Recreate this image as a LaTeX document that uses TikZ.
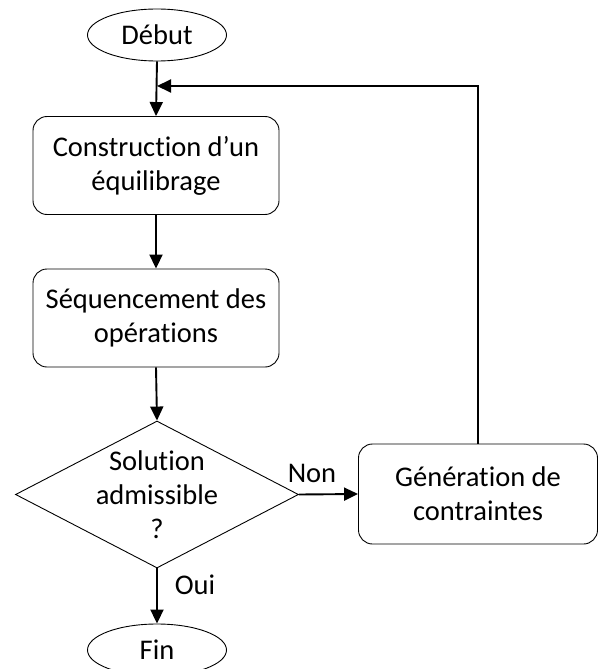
\documentclass[tikz,border=0pt]{standalone}
\usepackage{fontspec}
\setmainfont[RawFeature={-liga;-clig;-dlig}]{Carlito}
\usetikzlibrary{shapes.geometric,arrows.meta}
\begin{document}
\begin{tikzpicture}[x=1pt,y=-1pt,
  every node/.style={font=\fontsize{28.5}{34}\selectfont, align=center},
  term/.style={draw, ellipse, line width=0.9pt, minimum width=139pt, minimum height=52pt, inner sep=0pt},
  proc/.style={draw, rectangle, rounded corners=14pt, line width=0.9pt, minimum width=246pt, minimum height=98pt, inner sep=0pt},
  decision/.style={draw, diamond, line width=0.9pt, minimum width=283pt, minimum height=147pt, inner sep=0pt},
  conn/.style={line width=1.9pt, -{Triangle[length=14pt,width=13pt]}},
  lbl/.style={inner sep=0pt}
]
\useasboundingbox (0,0) rectangle (598,669);
\node[term] (debut) at (157,35) {Début};
\node[proc] (b1) at (156,165.5) {Construction d’un\\équilibrage};
\node[proc] (b2) at (156,318) {Séquencement des\\opérations};
\node[decision] (dia) at (157,494.5) {};
\node[lbl] (diatext) at (157,495) {Solution\\admissible\\?};
\node[proc, minimum width=239pt, minimum height=100pt] (gen) at (478,494) {Génération de\\contraintes};
\node[term] (fin) at (157,650) {Fin};
\coordinate (j) at (157,86);

\draw[conn] (debut.south) -- (b1.north);
\draw[conn] (gen.north) |- (j);
\draw[conn] (b1.south) -- (b2.north);
\draw[conn] (b2.south) -- (dia.north);
\draw[conn] (dia.east) -- (gen.west);
\draw[conn] (dia.south) -- (fin.north);
\node[lbl] (non) at (312,473) {Non};
\node[lbl] (oui) at (195,585) {Oui};
\end{tikzpicture}
\end{document}
